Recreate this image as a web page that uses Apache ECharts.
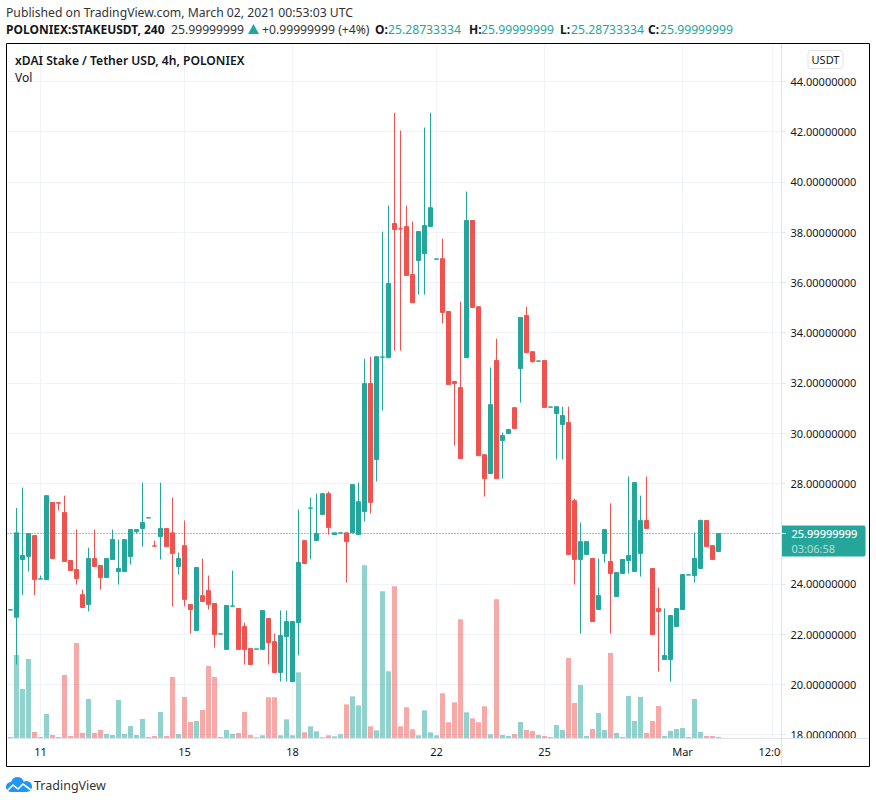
<!DOCTYPE html>
<html>
<head>
<meta charset="utf-8">
<title>STAKEUSDT</title>
<style>
  html, body { margin: 0; padding: 0; background: #fff; }
  #chart { width: 876px; height: 803px; }
</style>
<script src="https://cdn.jsdelivr.net/npm/echarts@6/dist/echarts.min.js"></script>
</head>
<body>
<div id="chart"></div>
<script>
var opens = [
  22.96, 22.67, 24.97, 25.09, 25.92, 24.19, 24.17, 27.24, 27.23, 26.84,
  24.93, 24.57, 23.57, 23.18, 25.01, 24.73, 24.25, 24.97, 24.49, 24.49,
  25.09, 26.08, 26.20, 26.62, 25.51, 25.88, 26.20, 26.03, 24.69, 25.52,
  23.18, 22.14, 23.53, 23.73, 23.22, 22.00, 21.39, 23.11, 23.02, 22.30,
  21.43, 21.40, 21.39, 22.62, 21.70, 20.47, 21.90, 20.11, 22.46, 25.72,
  27.01, 25.72, 26.76, 27.59, 25.96, 26.02, 26.03, 26.03, 25.96, 26.88,
  31.97, 28.95, 33.02, 33.00, 38.34, 38.13, 38.22, 36.31, 36.87, 37.14,
  38.22, 36.92, 36.94, 34.84, 32.05, 31.81, 33.00, 38.46, 35.03, 29.14,
  28.39, 32.89, 29.70, 29.98, 31.01, 32.57, 34.68, 33.24, 32.86, 32.89,
  31.03, 30.78, 30.34, 30.42, 27.31, 24.97, 25.17, 25.01, 22.98, 25.21,
  24.89, 23.49, 24.41, 24.93, 24.49, 25.21, 26.52, 24.61, 23.02, 20.99,
  20.99, 22.30, 22.98, 24.35, 24.33, 24.61, 26.52, 25.52, 25.29
];
var closes = [
  22.97, 26.03, 25.13, 26.00, 24.17, 24.20, 27.51, 25.01, 27.21, 24.89,
  24.53, 24.21, 23.06, 25.01, 24.69, 24.25, 25.01, 25.76, 24.61, 25.76,
  26.16, 26.16, 26.44, 26.63, 25.50, 26.20, 25.48, 25.21, 25.01, 23.38,
  22.98, 24.65, 23.30, 23.18, 21.98, 22.01, 23.14, 23.12, 21.39, 21.39,
  20.79, 21.41, 22.94, 21.66, 20.47, 21.94, 22.50, 22.50, 24.85, 24.81,
  27.02, 26.00, 27.59, 26.24, 26.03, 26.03, 25.68, 27.95, 27.27, 31.97,
  27.24, 33.04, 33.03, 35.95, 38.10, 38.12, 36.27, 35.19, 38.02, 38.26,
  38.97, 36.93, 34.80, 31.93, 31.97, 28.99, 38.46, 35.00, 29.10, 28.19,
  31.13, 28.19, 29.90, 30.14, 30.18, 34.60, 33.20, 32.85, 32.87, 31.02,
  31.04, 31.05, 30.70, 25.17, 24.97, 25.68, 25.68, 22.50, 23.53, 26.16,
  24.41, 24.45, 24.97, 25.13, 28.03, 26.52, 26.20, 21.98, 22.90, 21.15,
  22.74, 23.02, 24.37, 24.36, 25.01, 26.52, 25.48, 24.97, 26.00
];
var lows = [
  22.96, 20.79, 23.55, 24.49, 23.55, 24.19, 24.17, 25.01, 26.92, 24.89,
  24.53, 23.97, 23.06, 22.90, 24.69, 23.77, 24.25, 24.97, 23.97, 24.49,
  24.77, 26.00, 25.48, 26.62, 25.50, 24.97, 25.48, 23.10, 24.37, 23.10,
  22.02, 22.14, 23.30, 22.98, 21.46, 22.00, 21.39, 23.11, 21.39, 20.79,
  20.79, 21.40, 21.39, 20.79, 20.47, 20.11, 20.11, 20.11, 21.15, 24.81,
  24.97, 25.72, 26.76, 25.96, 25.96, 26.02, 24.05, 26.03, 25.96, 26.48,
  26.80, 28.07, 30.90, 33.00, 33.28, 33.28, 36.27, 35.19, 35.51, 35.51,
  38.22, 36.92, 34.36, 31.93, 29.50, 28.99, 33.00, 35.00, 29.10, 27.47,
  28.39, 28.19, 28.19, 29.98, 30.18, 31.21, 33.20, 32.80, 32.86, 31.02,
  31.03, 28.95, 28.95, 25.17, 23.97, 22.02, 25.17, 22.50, 22.98, 24.85,
  22.02, 23.49, 24.41, 24.41, 24.49, 24.29, 26.20, 21.98, 20.51, 20.99,
  20.11, 22.30, 22.98, 24.35, 24.05, 24.61, 25.48, 24.97, 25.29
];
var highs = [
  22.97, 27.02, 27.83, 26.00, 25.92, 24.33, 27.51, 27.24, 27.23, 27.51,
  24.93, 26.16, 23.77, 25.44, 26.16, 24.73, 25.01, 26.16, 25.76, 25.76,
  26.16, 26.16, 28.03, 26.63, 25.72, 28.03, 26.20, 27.43, 25.25, 26.52,
  23.18, 24.65, 25.01, 24.33, 23.22, 22.01, 23.14, 24.53, 23.02, 22.46,
  21.43, 21.41, 22.94, 22.62, 22.02, 22.94, 22.94, 22.50, 26.96, 25.72,
  27.43, 27.59, 27.59, 27.67, 26.03, 26.03, 26.03, 27.95, 28.03, 32.96,
  33.04, 33.04, 38.02, 39.05, 42.75, 42.04, 39.05, 38.42, 38.02, 42.16,
  42.75, 36.93, 37.74, 34.84, 32.05, 35.23, 39.61, 38.46, 35.03, 29.14,
  32.61, 33.76, 30.02, 30.14, 31.01, 34.60, 35.03, 33.24, 32.87, 32.89,
  31.04, 31.05, 31.05, 31.05, 27.39, 26.44, 25.68, 25.01, 25.01, 26.16,
  27.20, 24.45, 24.97, 28.27, 28.03, 27.51, 28.27, 24.61, 23.85, 23.02,
  22.74, 23.02, 24.37, 24.36, 26.04, 26.56, 26.52, 25.52, 26.00
];
var volumes = [
  1.3, 83.3, 49.3, 79.3, 6.3, 1.3, 24.3, 3.3, 1.3, 63.3,
  2.3, 95.3, 5.3, 39.3, 5.3, 8.3, 4.3, 3.3, 38.3, 4.3,
  12.3, 3.3, 19.3, 1.3, 2.3, 26.3, 2.3, 61.3, 4.3, 41.3,
  16.3, 17.3, 28.3, 72.3, 61.3, 1.3, 8.3, 4.3, 5.3, 26.3,
  3.3, 1, 3, 41, 41, 3, 19, 3, 66, 6,
  12, 7, 1, 3, 2, 4, 34, 42, 33, 173,
  12, 8, 147, 67, 152, 12, 31, 9, 3, 28,
  6, 3, 45, 16, 36, 119, 26, 20, 16, 32,
  4, 139, 3.3, 2.3, 4.3, 16.3, 8.3, 7.3, 3.3, 2.3,
  1.3, 13.3, 8.3, 80.3, 35.3, 53.3, 2.3, 9.3, 25.3, 8.3,
  85.3, 5.3, 1.3, 42.3, 17.3, 41.3, 5.3, 17.3, 32.3, 2.3,
  7.3, 9.3, 10.3, 1.3, 39.3, 6.3, 2.3, 2.3, 1.3
];

// the time scale keeps running past the last candle
var slotCount = 129;
var timeIndexes = [5, 29, 47, 71, 89, 112, 127];
var timeLabels = ['11', '15', '18', '22', '25', 'Mar', '12:00'];
var lastPrice = 25.99999999;
var countdown = '03:06:58';

var UP = '#26a69a';
var DOWN = '#ef5350';
var UP_VOL = 'rgba(38,166,154,0.5)';
var DOWN_VOL = 'rgba(239,83,80,0.5)';
var GRID = '#f0f3fa';
var RULE = '#e0e3eb';
var INK = '#131722';
var FONT = '"Noto Sans", sans-serif';

var categories = [];
for (var i = 0; i < slotCount; i++) {
  var at = timeIndexes.indexOf(i);
  categories.push(at >= 0 ? timeLabels[at] : '');
}
function isTimeTick(index) { return timeIndexes.indexOf(index) >= 0; }

var candleData = opens.map(function(o, i) { return [o, closes[i], lows[i], highs[i]]; });
var volumeData = volumes.map(function(v, i) {
  return { value: v, itemStyle: { color: closes[i] >= opens[i] ? UP_VOL : DOWN_VOL } };
});

function text(x, y, str, opts) {
  opts = opts || {};
  return {
    type: 'text', x: x, y: y, z: 20,
    style: {
      text: str,
      fill: opts.fill || INK,
      font: (opts.weight || 'normal') + ' ' + (opts.size || 12.2) + 'px ' + FONT,
      textVerticalAlign: 'middle',
      textAlign: opts.align || 'left'
    }
  };
}

var chart = echarts.init(document.getElementById('chart'), null, { renderer: 'svg' });
chart.setOption({
  animation: false,
  backgroundColor: '#fff',
  textStyle: { fontFamily: FONT },
  grid: [
    { left: 7.5, top: 81.3, width: 774, height: 653.3 },
    { left: 7.5, top: 43.5, width: 774, height: 694.8 }
  ],
  xAxis: [
    { type: 'category', gridIndex: 0, data: categories, show: false },
    {
      type: 'category',
      gridIndex: 1,
      data: categories,
      axisLine: { lineStyle: { color: RULE } },
      axisTick: { alignWithLabel: true, interval: function(i) { return isTimeTick(i); }, length: 4, lineStyle: { color: RULE } },
      axisLabel: {
        interval: function(i) { return isTimeTick(i); },
        color: INK, fontSize: 11, fontFamily: FONT, margin: 8, hideOverlap: false
      },
      splitLine: {
        show: true,
        alignWithLabel: true,
        interval: function(i) { return isTimeTick(i); },
        lineStyle: { color: GRID }
      }
    }
  ],
  yAxis: [
    {
      type: 'value',
      gridIndex: 0,
      position: 'right',
      min: 18,
      max: 44,
      interval: 2,
      axisLine: { show: false },
      axisTick: { show: true, length: 4, lineStyle: { color: RULE } },
      axisLabel: {
        color: INK, fontSize: 11, fontFamily: FONT, margin: 9,
        // the last-price tag sits on top of the 26 label
        formatter: function(v) { return v === 26 ? '' : v.toFixed(8); }
      },
      splitLine: { lineStyle: { color: GRID } }
    },
    { type: 'value', gridIndex: 1, min: 0, max: 694.8, show: false }
  ],
  series: [
    {
      type: 'bar',
      xAxisIndex: 1,
      yAxisIndex: 1,
      data: volumeData,
      barWidth: 5,
      z: 1,
      silent: true
    },
    {
      type: 'candlestick',
      xAxisIndex: 0,
      yAxisIndex: 0,
      data: candleData,
      barWidth: 4,
      z: 2,
      itemStyle: {
        color: UP, color0: DOWN,
        borderColor: UP, borderColor0: DOWN, borderColorDoji: UP,
        borderWidth: 1
      },
      markLine: {
        silent: true,
        symbol: 'none',
        animation: false,
        lineStyle: { color: UP, type: [1, 2], width: 1 },
        label: {
          show: true,
          position: 'end',
          distance: 0,
          align: 'left',
          verticalAlign: 'top',
          offset: [0, -8],
          width: 74,
          height: 31,
          padding: [0, 0, 0, 10],
          backgroundColor: UP,
          borderRadius: [0, 2, 2, 0],
          formatter: function() { return '{p|' + lastPrice.toFixed(8) + '}\n{t|' + countdown + '}'; },
          rich: {
            p: { color: '#fff', fontSize: 11, fontWeight: 500, fontFamily: FONT, lineHeight: 15 },
            t: { color: 'rgba(255,255,255,0.65)', fontSize: 11, fontFamily: FONT, lineHeight: 15 }
          }
        },
        data: [{ yAxis: lastPrice }]
      }
    }
  ],
  graphic: [
    // price scale border and time scale border
    { type: 'line', z: 9, shape: { x1: 781.5, y1: 44, x2: 781.5, y2: 766 }, style: { stroke: RULE, lineWidth: 1 } },
    { type: 'line', z: 9, shape: { x1: 7, y1: 738.5, x2: 869, y2: 738.5 }, style: { stroke: RULE, lineWidth: 1 } },
    // labels are cut off where the scales meet
    { type: 'rect', z: 8, shape: { x: 782, y: 739, width: 87, height: 27 }, style: { fill: '#fff' } },
    { type: 'line', z: 12, shape: { x1: 781, y1: 533.5, x2: 786, y2: 533.5 }, style: { stroke: '#fff', lineWidth: 1 } },
    { type: 'rect', z: 21, shape: { x: 6.5, y: 43.5, width: 863, height: 723 }, style: { fill: 'none', stroke: '#000', lineWidth: 1 } },

    text(6, 12, 'Published on TradingView.com, March 02, 2021 00:53:03 UTC', { fill: '#333' }),
    text(6, 29, 'POLONIEX:STAKEUSDT, 240', { weight: 'bold', size: 12 }),
    text(171, 29, '25.99999999', { fill: '#333' }),
    { type: 'polygon', z: 20, shape: { points: [[253.5, 24], [259, 34], [248, 34]] }, style: { fill: UP } },
    text(262, 29, '+0.99999999 (+4%)', { fill: '#333' }),
    text(375, 29, 'O:', { weight: 'bold', size: 12 }),
    text(388, 29, '25.28733334', { fill: UP }),
    text(469, 29, 'H:', { weight: 'bold', size: 12 }),
    text(481, 29, '25.99999999', { fill: UP }),
    text(560, 29, 'L:', { weight: 'bold', size: 12 }),
    text(571, 29, '25.28733334', { fill: UP }),
    text(648, 29, 'C:', { weight: 'bold', size: 12 }),
    text(660, 29, '25.99999999', { fill: UP }),

    text(15, 60.5, 'xDAI Stake / Tether USD, 4h, POLONIEX', { weight: 600, size: 12.1 }),
    text(15, 77.5, 'Vol', { size: 12 }),

    { type: 'rect', z: 20, shape: { x: 808, y: 50.5, width: 35, height: 18, r: 3 }, style: { fill: '#fff', stroke: RULE, lineWidth: 1 } },
    text(825.5, 59.5, 'USDT', { size: 11, align: 'center' }),

    // TradingView cloud
    { type: 'circle', z: 20, shape: { cx: 11, cy: 787, r: 5 }, style: { fill: '#2196f3' } },
    { type: 'circle', z: 20, shape: { cx: 17.5, cy: 783.5, r: 6.5 }, style: { fill: '#2196f3' } },
    { type: 'circle', z: 20, shape: { cx: 26.5, cy: 786.5, r: 5.5 }, style: { fill: '#2196f3' } },
    { type: 'rect', z: 20, shape: { x: 11, y: 785, width: 15.5, height: 7 }, style: { fill: '#2196f3' } },
    { type: 'polyline', z: 21, shape: { points: [[7, 791], [13, 785], [18, 789], [23, 784], [31, 790]] }, style: { stroke: '#fff', fill: 'none', lineWidth: 1.6 } },
    text(34, 785, 'TradingView', { size: 12.5, fill: '#333' })
  ]
});
window.addEventListener('resize', function() { chart.resize(); });
</script>
</body>
</html>
